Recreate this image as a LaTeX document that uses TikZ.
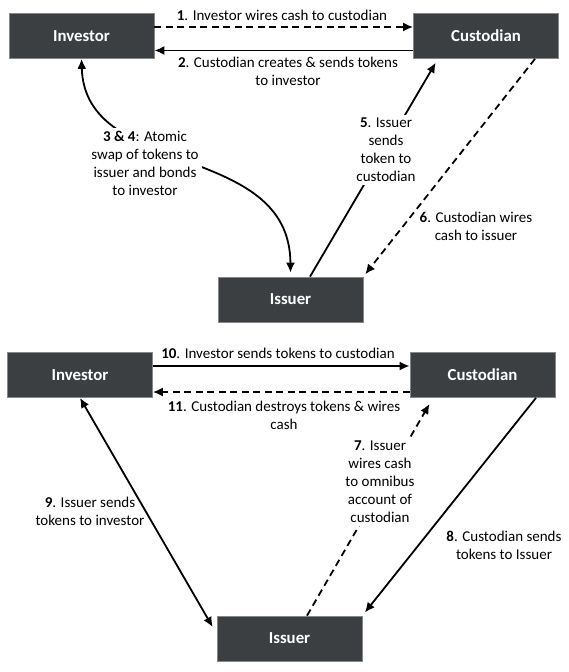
\documentclass[tikz,border=0pt]{standalone}
\usepackage{fontspec}
\setmainfont{Carlito}
\usetikzlibrary{arrows.meta}
\definecolor{boxfill}{HTML}{3C3F42}
\definecolor{boxedge}{HTML}{85878A}

\begin{document}
\begin{tikzpicture}[x=1pt,y=-1pt,
  party/.style={fill=boxfill, draw=boxedge, line width=0.7pt,
    minimum width=145pt, minimum height=45pt, inner sep=0pt,
    font=\fontsize{16.8}{20}\selectfont\bfseries, text=white},
  flow/.style={line width=1.8pt, -{Latex[length=10pt,width=9pt]}},
  twoway/.style={line width=1.8pt,
    {Latex[length=10pt,width=9pt]}-{Latex[length=10pt,width=9pt]}},
  cash/.style={dash pattern=on 7pt off 4.5pt},
  note/.style={font=\fontsize{15}{18}\selectfont, align=center, inner sep=1pt},
  cover/.style={note, fill=white, inner sep=3pt},
]
\useasboundingbox (0,0) rectangle (568,672);

% ---------- issuance ----------
\node[party] (inv1) at (81.5,36)    {Investor};
\node[party] (cus1) at (486,36)     {Custodian};
\node[party] (iss1) at (290.5,299.5) {Issuer};

\draw[flow,cash] ([yshift=9pt]inv1.east) -- ([yshift=9pt]cus1.west);
\node[note] (n1) at (282,15) {\textbf{1}. Investor wires cash to custodian};

\draw[flow] ([yshift=-14.5pt]cus1.west) -- ([yshift=-14.5pt]inv1.east);
\node[note] (n2) at (288,71.5) {\textbf{2}. Custodian creates \& sends tokens\\to investor};

\draw[twoway, shorten >=4pt] (inv1.south) .. controls (85,180) and (290,140) .. (iss1.north);
\node[cover] (n34) at (145,163.5) {\textbf{3 \& 4}: Atomic\\swap of tokens to\\issuer and bonds\\to investor};

\draw[flow, shorten >=4.5pt] ([xshift=19.5pt]iss1.north) -- ([xshift=-48pt]cus1.south);
\node[cover] (n5) at (386,150) {\textbf{5}. Issuer\\sends\\token to\\custodian};

\draw[flow,cash, shorten >=3pt] ([xshift=49pt]cus1.south) -- (iss1.north east);
\node[note] (n6) at (476,226) {\textbf{6}. Custodian wires\\cash to issuer};

% ---------- redemption ----------
\node[party] (inv2) at (80,375)     {Investor};
\node[party] (cus2) at (482.5,375)  {Custodian};
\node[party] (iss2) at (289.5,638.5) {Issuer};

\draw[flow] ([yshift=9pt]inv2.east) -- ([yshift=9pt]cus2.west);
\node[note] (n10) at (278,353) {\textbf{10}. Investor sends tokens to custodian};

\draw[flow,cash] ([yshift=-17pt]cus2.west) -- ([yshift=-17pt]inv2.east);
\node[note] (n11) at (284,415) {\textbf{11}. Custodian destroys tokens \& wires\\cash};

\draw[flow,cash, shorten >=7pt] ([xshift=17.5pt]iss2.north) -- ([xshift=-49.5pt]cus2.south);
\node[cover] (n7) at (380,482) {\textbf{7}. Issuer\\wires cash\\to omnibus\\account of\\custodian};

\draw[flow, shorten >=4pt] ([xshift=53.5pt]cus2.south) -- (iss2.north east);
\node[note] (n8) at (504,545) {\textbf{8}. Custodian sends\\tokens to Issuer};

\draw[twoway] (inv2.south) -- ([xshift=-4pt,yshift=11.5pt]iss2.west);
\node[note] (n9) at (90,511) {\textbf{9}. Issuer sends\\tokens to investor};

\end{tikzpicture}
\end{document}
